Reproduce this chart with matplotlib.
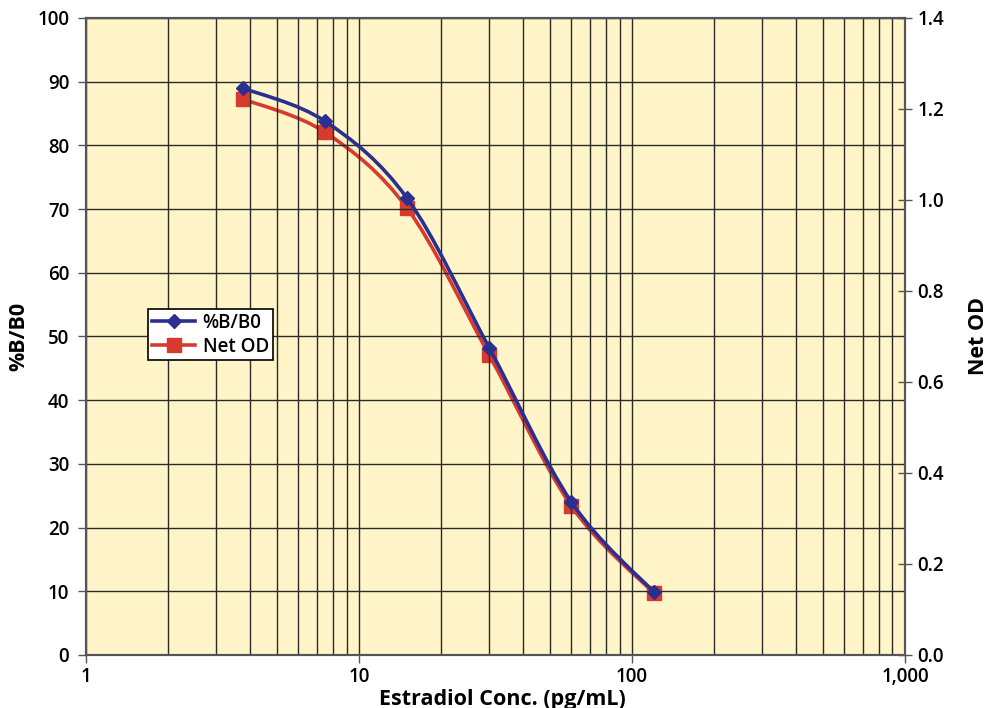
import numpy as np
import matplotlib.pyplot as plt
from matplotlib.path import Path
from matplotlib.patches import PathPatch
from matplotlib.lines import Line2D
from matplotlib.ticker import FixedLocator, NullFormatter, FuncFormatter

# datos
conc = [3.75, 7.5, 15, 30, 60, 120]
b_b0 = [89.0, 83.8, 71.7, 48.2, 24.0, 9.9]
net_od = [1.222, 1.149, 0.982, 0.659, 0.327, 0.136]

azul = "#2b2f8f"
rojo = "#d83a2e"
fondo = "#fff5c8"

plt.rcParams['font.family'] = ['Open Sans', 'DejaVu Sans']


def curva_suave(ax, xs, ys, color, tension=0.5):
    # linea suavizada tipo Excel (Catmull-Rom en espacio log x)
    lx = np.log10(xs)
    ys = np.asarray(ys, dtype=float)
    pts = np.column_stack([lx, ys])
    verts = [pts[0]]
    codes = [Path.MOVETO]
    n = len(pts)
    for i in range(n - 1):
        p0 = pts[i - 1] if i > 0 else pts[i]
        p1 = pts[i]
        p2 = pts[i + 1]
        p3 = pts[i + 2] if i + 2 < n else pts[i + 1]
        c1 = p1 + (p2 - p0) * tension / 3.0
        c2 = p2 - (p3 - p1) * tension / 3.0
        verts += [c1, c2, p2]
        codes += [Path.CURVE4] * 3
    verts = np.array(verts)
    verts[:, 0] = 10 ** verts[:, 0]
    patch = PathPatch(Path(verts, codes), facecolor="none", edgecolor=color,
                      lw=2.6, zorder=3, transform=ax.transData)
    ax.add_patch(patch)


fig = plt.figure(figsize=(9.97, 7.08), dpi=100)
ax = fig.add_axes([0.0863, 0.0749, 0.8214, 0.8997])
ax2 = ax.twinx()
ax.set_zorder(ax2.get_zorder() + 1)
ax.patch.set_visible(False)
ax2.patch.set_visible(True)
ax2.patch.set_facecolor(fondo)

ax.set_xscale("log")
ax.set_xlim(1, 1000)
ax.set_ylim(0, 100)
ax2.set_ylim(0, 1.4)

ax.set_yticks(np.arange(0, 101, 10))
ax2.set_yticks(np.arange(0, 1.41, 0.2))
ax2.yaxis.set_major_formatter(FuncFormatter(lambda v, p: "%.1f" % v))
ax.xaxis.set_major_locator(FixedLocator([1, 10, 100, 1000]))
ax.xaxis.set_major_formatter(FuncFormatter(lambda v, p: "{:,.0f}".format(v)))
menores = [m * 10 ** d for d in range(3) for m in range(2, 10)]
ax.xaxis.set_minor_locator(FixedLocator(menores))
ax.xaxis.set_minor_formatter(NullFormatter())

ax.grid(True, which="major", axis="both", color="#2a2a2a", lw=1.0)
ax.grid(True, which="minor", axis="x", color="#2a2a2a", lw=1.0)

for a in (ax, ax2):
    for s in a.spines.values():
        s.set_color("#555555")
        s.set_linewidth(1.5)

ax.tick_params(axis="y", direction="out", length=6, width=1, color="#555555",
               labelsize=13.5, pad=6)
ax.tick_params(axis="x", which="major", direction="out", length=6, width=1,
               color="#555555", labelsize=13.5, pad=3)
ax.tick_params(axis="x", which="minor", length=0)
ax2.tick_params(axis="y", direction="inout", length=10, width=1, color="#555555",
                labelsize=13.5, pad=4)
for t in ax.get_xticklabels() + ax.get_yticklabels() + ax2.get_yticklabels():
    t.set_fontweight("semibold")

curva_suave(ax, conc, b_b0, azul)
curva_suave(ax2, conc, net_od, rojo)
ax.plot(conc, b_b0, ls="none", marker="D", ms=7, color=azul, zorder=4)
ax2.plot(conc, net_od, ls="none", marker="s", ms=10, color=rojo, zorder=4)

ax.set_ylabel("%B/B0", fontsize=15.5, fontweight="bold", labelpad=6)
ax2.set_ylabel("Net OD", fontsize=15.5, fontweight="bold", rotation=90)
ax2.yaxis.set_label_coords(1.077, 0.5)
fig.text(0.504, 0.0125, "Estradiol Conc. (pg/mL)", fontsize=15.5,
         fontweight="bold", ha="center", va="center")

manejadores = [
    Line2D([], [], color=azul, lw=2.6, marker="D", ms=7),
    Line2D([], [], color=rojo, lw=2.6, marker="s", ms=10),
]
ley = ax.legend(manejadores, ["%B/B0", "Net OD"], loc="upper left",
                bbox_to_anchor=(0.076, 0.543), fontsize=13.5, frameon=True,
                fancybox=False, edgecolor="black", framealpha=1,
                handlelength=2.3, borderpad=0.2, labelspacing=0.2,
                handletextpad=0.4, borderaxespad=0)
ley.get_frame().set_linewidth(1.2)
for t in ley.get_texts():
    t.set_fontweight("semibold")

fig.savefig("out.png", dpi=100)
